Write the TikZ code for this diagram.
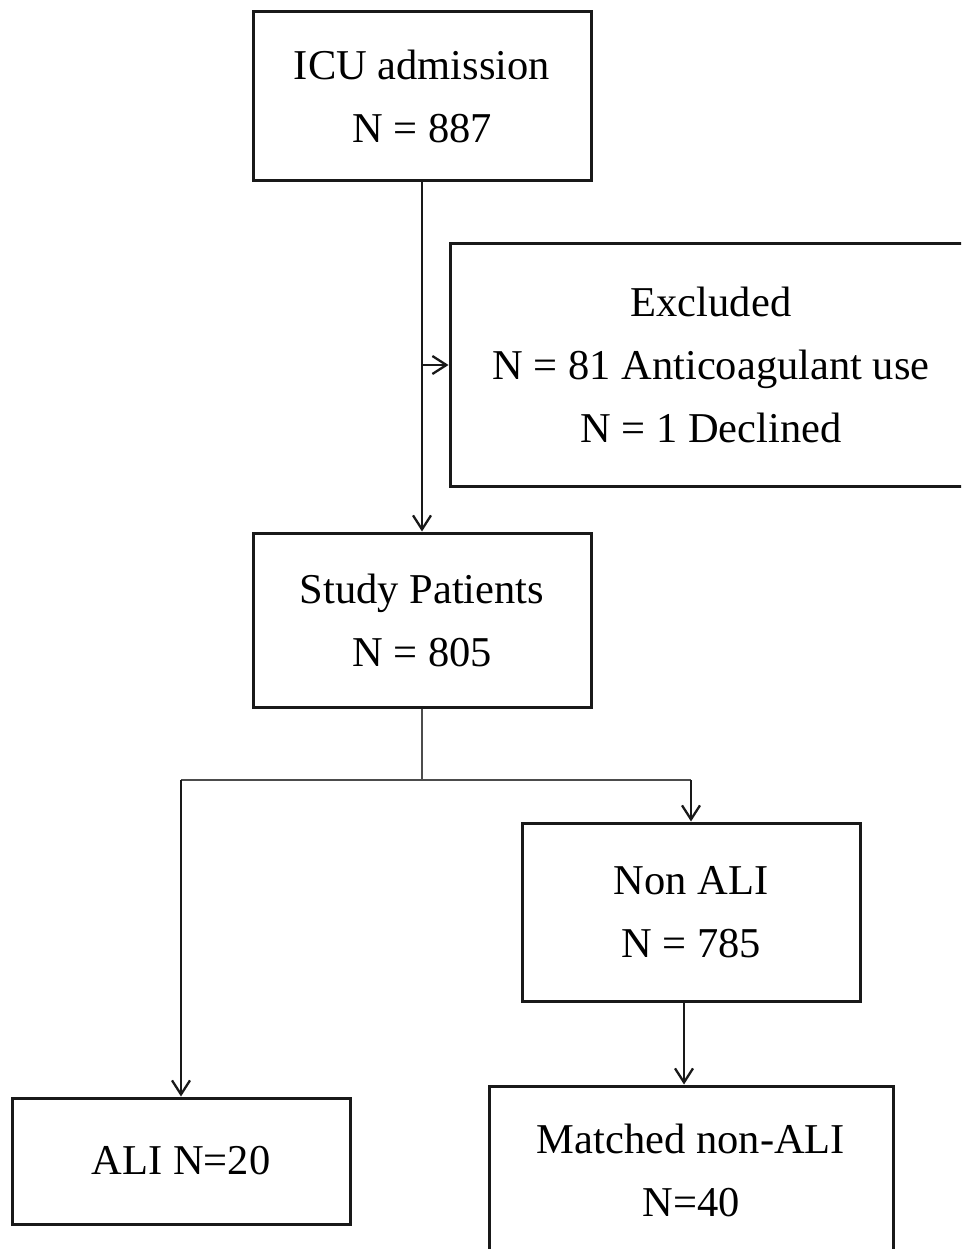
\documentclass[tikz,border=0pt]{standalone}
\usepackage{fontspec}
\setmainfont{Liberation Serif}
\usetikzlibrary{arrows.meta,calc}
\begin{document}
\begin{tikzpicture}[x=1pt,y=-1pt,
 box/.style={draw=black!90, line width=3pt, inner sep=0pt, align=center,
   font=\fontsize{42.5}{63}\selectfont},
 flow/.style={draw=black!90, line width=2.3pt, -{Straight Barb[length=14pt,width=18pt,line width=2.3pt]}},
 thinline/.style={draw=black!70, line width=1.6pt},
]
\useasboundingbox (0,0) rectangle (961,1249);
\clip (0,0) rectangle (961,1249);
\node[box, minimum width=338pt, minimum height=169pt] (icu) at (422,96.5) {ICU admission\\N = 887};
\node[box, minimum width=522pt, minimum height=242pt] (excl) at (711,365) {Excluded\\N = 81 Anticoagulant use\\N = 1 Declined};
\node[box, minimum width=338pt, minimum height=174pt] (study) at (422,620) {Study Patients\\N = 805};
\node[box, minimum width=338pt, minimum height=178pt] (nonali) at (691,912) {Non ALI\\N = 785};
\node[box, minimum width=338pt, minimum height=126pt] (ali) at (181,1161) {ALI N=20};
\node[box, minimum width=404pt, minimum height=168pt] (matched) at (691,1170) {Matched non-ALI\\N=40};
\coordinate (split) at (422,780);
\draw[flow] (icu.south) -- (study.north);
\draw[flow] (excl.west -| icu.south) -- (excl.west);
\draw[thinline] (study.south) -- (split);
\draw[thinline] (ali.north |- split) -- (nonali.north |- split);
\draw[flow] (ali.north |- split) -- (ali.north);
\draw[flow] (nonali.north |- split) -- (nonali.north);
\draw[flow] ($(nonali.south)+(-7,0)$) -- ($(matched.north)+(-7,0)$);
\end{tikzpicture}
\end{document}
